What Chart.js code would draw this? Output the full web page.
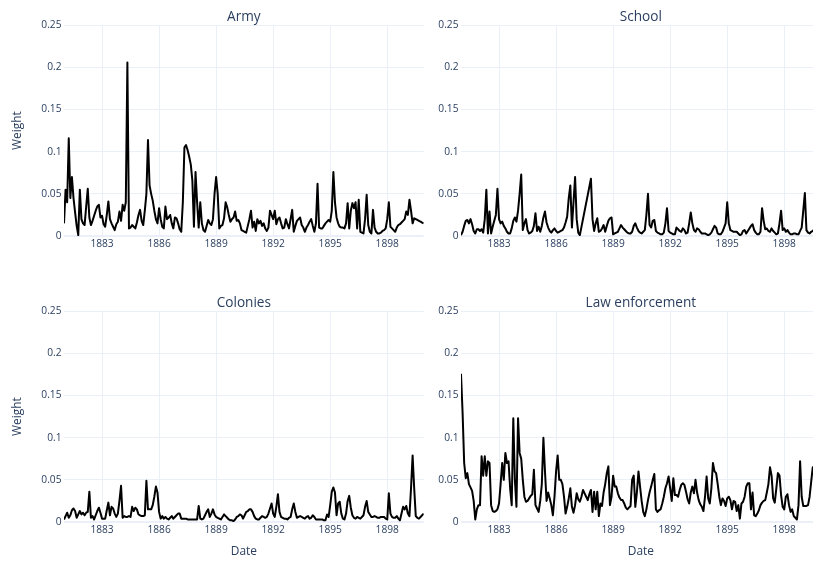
<!DOCTYPE html>
<html>
<head>
<meta charset="utf-8">
<script src="https://cdn.jsdelivr.net/npm/chart.js@4.4.0/dist/chart.umd.min.js"></script>
<style>
  html, body { margin: 0; padding: 0; background: #fff; overflow: hidden; }
  #page { position: relative; width: 813px; height: 563px; overflow: hidden; background: #fff; }
  canvas { position: absolute; }
</style>
</head>
<body>
<div id="page">
  <canvas id="armyChart" width="430" height="262" style="left:0;top:0"></canvas>
  <canvas id="schoolChart" width="430" height="262" style="left:397px;top:0"></canvas>
  <canvas id="coloniesChart" width="430" height="277" style="left:0;top:286px"></canvas>
  <canvas id="lawChart" width="430" height="277" style="left:397px;top:286px"></canvas>
</div>
<script>
// monthly series, Jan 1881 .. Dec 1899
const firstYear = 1881;
const monthCount = 228;
const months = Array.from({ length: monthCount }, (_, i) => firstYear + i / 12);

const yearTicks = [1883, 1886, 1889, 1892, 1895, 1898];
const weightTicks = [0, 0.05, 0.1, 0.15, 0.2, 0.25];

const armyWeights = [
  0.015, 0.055, 0.04, 0.116, 0.045, 0.07, 0.045, 0.028, 0.012, 0.001, 0.055, 0.02,
  0.015, 0.013, 0.035, 0.056, 0.022, 0.013, 0.018, 0.024, 0.03, 0.035, 0.037, 0.022,
  0.024, 0.014, 0.011, 0.025, 0.041, 0.02, 0.015, 0.011, 0.007, 0.014, 0.017, 0.029,
  0.018, 0.037, 0.03, 0.04, 0.206, 0.009, 0.01, 0.013, 0.011, 0.009, 0.016, 0.025,
  0.031, 0.018, 0.013, 0.03, 0.05, 0.114, 0.06, 0.05, 0.042, 0.03, 0.02, 0.015,
  0.033, 0.02, 0.011, 0.009, 0.035, 0.02, 0.022, 0.025, 0.015, 0.009, 0.022, 0.021,
  0.015, 0.008, 0.005, 0.04, 0.105, 0.108, 0.102, 0.094, 0.085, 0.066, 0.011, 0.076,
  0.04, 0.01, 0.04, 0.015, 0.007, 0.005, 0.012, 0.019, 0.015, 0.013, 0.02, 0.05,
  0.07, 0.05, 0.009, 0.012, 0.013, 0.021, 0.04, 0.034, 0.025, 0.017, 0.02, 0.022,
  0.029, 0.018, 0.019, 0.015, 0.007, 0.006, 0.005, 0.004, 0.012, 0.02, 0.03, 0.01,
  0.017, 0.006, 0.02, 0.015, 0.018, 0.012, 0.015, 0.009, 0.006, 0.01, 0.03, 0.025,
  0.02, 0.03, 0.014, 0.02, 0.022, 0.015, 0.009, 0.01, 0.02, 0.014, 0.009, 0.02,
  0.031, 0.005, 0.012, 0.018, 0.02, 0.022, 0.013, 0.01, 0.005, 0.01, 0.013, 0.017,
  0.02, 0.012, 0.005, 0.015, 0.062, 0.01, 0.009, 0.009, 0.012, 0.015, 0.017, 0.019,
  0.017, 0.03, 0.076, 0.04, 0.022, 0.015, 0.011, 0.01, 0.01, 0.009, 0.015, 0.039,
  0.009, 0.03, 0.039, 0.033, 0.04, 0.009, 0.043, 0.005, 0.004, 0.003, 0.02, 0.049,
  0.013, 0.005, 0.003, 0.031, 0.01, 0.005, 0.003, 0.003, 0.004, 0.006, 0.007, 0.009,
  0.02, 0.04, 0.011, 0.009, 0.007, 0.005, 0.01, 0.013, 0.014, 0.016, 0.018, 0.02,
  0.029, 0.025, 0.043, 0.03, 0.015, 0.021, 0.02, 0.019, 0.018, 0.017, 0.016, 0.015
];

// null = no value for that month (line is joined across)
const schoolWeights = [
  0.001, 0.005, 0.012, 0.018, 0.019, 0.015, 0.02, 0.014, 0.006, 0.003, 0.008, 0.008,
  0.006, 0.008, 0.004, 0.02, 0.055, 0.003, 0.029, 0.003, 0.011, 0.018, 0.025, 0.056,
  0.02, 0.015, 0.017, 0.012, 0.009, 0.005, 0.003, 0.003, 0.009, 0.018, 0.022, 0.017,
  0.03, 0.05, 0.073, 0.007, 0.015, 0.02, 0.007, 0.003, 0.004, 0.006, 0.012, 0.027,
  0.006, 0.011, 0.005, 0.012, 0.022, 0.029, 0.016, 0.01, 0.006, 0.004, 0.007, 0.009,
  0.006, 0.004, 0.005, 0.006, 0.007, 0.01, 0.016, 0.023, 0.045, 0.06, 0.01, 0.04,
  0.07, 0.02, 0.004, 0.001, null, null, null, null, null, null, 0.068, 0.02,
  0.006, 0.015, 0.021, 0.005, 0.006, 0.009, 0.013, 0.005, 0.012, 0.018, 0.021, 0.022,
  0.002, 0.003, 0.004, 0.005, 0.009, 0.013, 0.01, 0.008, 0.006, 0.004, 0.003, 0.003,
  0.005, 0.012, 0.015, 0.01, 0.006, 0.004, 0.003, 0.005, 0.007, 0.025, 0.05, 0.013,
  0.01, 0.018, 0.019, 0.006, 0.004, 0.003, 0.002, 0.002, 0.004, 0.015, 0.033, 0.006,
  0.004, 0.003, 0.002, 0.002, 0.01, 0.008, 0.006, 0.005, 0.009, 0.007, 0.003, 0.004,
  0.015, 0.028, 0.015, 0.007, 0.005, 0.009, 0.008, 0.005, 0.003, 0.003, 0.003, 0.002,
  0.001, 0.002, 0.004, 0.008, 0.012, 0.01, 0.003, 0.002, 0.002, 0.005, 0.01, 0.015,
  0.04, 0.015, 0.007, 0.006, 0.005, 0.005, 0.005, 0.003, 0.001, 0.002, 0.006, 0.007,
  0.003, 0.006, 0.009, 0.012, 0.014, 0.007, 0.004, 0.002, 0.002, 0.005, 0.033, 0.018,
  0.008, 0.009, 0.006, 0.005, 0.009, 0.006, 0.004, 0.002, 0.003, 0.015, 0.03, 0.007,
  0.009, 0.005, 0.007, 0.004, 0.002, 0.002, 0.003, 0.003, 0.002, 0.002, 0.006, 0.01,
  0.03, 0.051, 0.007, 0.004, 0.003, 0.005, 0.006, 0.008, null, null, null, null
];

const coloniesWeights = [
  0.003, 0.007, 0.011, 0.005, 0.008, 0.014, 0.016, 0.013, 0.005, 0.009, 0.013, 0.009,
  0.011, 0.008, 0.011, 0.012, 0.036, 0.005, 0.007, 0.003, 0.008, 0.013, 0.017, 0.011,
  0.004, 0.004, 0.004, 0.014, 0.023, 0.008, 0.018, 0.016, 0.01, 0.006, 0.01, 0.025,
  0.043, 0.005, 0.007, 0.006, 0.006, 0.007, 0.006, 0.018, 0.013, 0.017, 0.015, 0.009,
  0.008, 0.007, 0.007, 0.008, 0.049, 0.015, 0.015, 0.015, 0.02, 0.03, 0.042, 0.035,
  0.012, 0.004, 0.007, 0.004, 0.006, 0.004, 0.003, 0.005, 0.007, 0.004, 0.006, 0.008,
  0.01, 0.01, 0.004, 0.004, 0.004, 0.004, 0.003, 0.003, 0.003, 0.003, 0.003, 0.003,
  0.003, 0.019, 0.004, 0.003, 0.004, 0.008, 0.012, 0.015, 0.006, 0.01, 0.015, 0.009,
  0.006, 0.005, 0.004, 0.003, 0.006, 0.009, 0.007, 0.005, 0.003, 0.002, 0.002, 0.001,
  0.003, 0.006, 0.007, 0.009, 0.008, 0.004, 0.008, 0.012, 0.013, 0.015, 0.015, 0.012,
  0.007, 0.004, 0.003, 0.003, 0.005, 0.007, 0.006, 0.005, 0.006, 0.01, 0.016, 0.022,
  0.01, 0.006, 0.018, 0.033, 0.012, 0.006, 0.005, 0.004, 0.004, 0.003, 0.005, 0.006,
  0.015, 0.022, 0.012, 0.005, 0.006, 0.007, 0.006, 0.005, 0.004, 0.006, 0.007, 0.004,
  0.005, 0.008, 0.006, 0.003, 0.003, 0.003, 0.003, 0.003, 0.002, 0.002, 0.009, 0.006,
  0.02, 0.036, 0.041, 0.035, 0.008, 0.022, 0.024, 0.01, 0.004, 0.003, 0.01, 0.025,
  0.031, 0.017, 0.008, 0.005, 0.004, 0.006, 0.005, 0.004, 0.006, 0.008, 0.018, 0.025,
  0.012, 0.009, 0.006, 0.006, 0.007, 0.006, 0.005, 0.005, 0.006, 0.006, 0.006, 0.004,
  0.003, 0.034, 0.01, 0.006, 0.005, 0.005, 0.007, 0.004, 0.002, 0.01, 0.018, 0.015,
  0.019, 0.01, 0.007, 0.04, 0.079, 0.04, 0.007, 0.005, 0.004, 0.006, 0.008, 0.01
];

const lawWeights = [
  0.176, 0.13, 0.07, 0.052, 0.058, 0.045, 0.041, 0.037, 0.025, 0.003, 0.015, 0.02,
  0.02, 0.078, 0.055, 0.078, 0.055, 0.072, 0.07, 0.02, 0.013, 0.012, 0.013, 0.015,
  0.022, 0.045, 0.07, 0.05, 0.082, 0.07, 0.072, 0.04, 0.02, 0.123, 0.05, 0.018,
  0.123, 0.082, 0.075, 0.05, 0.03, 0.024, 0.025, 0.028, 0.031, 0.033, 0.062, 0.02,
  0.016, 0.012, 0.025, 0.045, 0.1, 0.06, 0.025, 0.035, 0.028, 0.02, 0.008, 0.03,
  0.06, 0.079, 0.05, 0.05, 0.045, 0.03, 0.01, 0.018, 0.028, 0.04, 0.018, 0.011,
  0.02, 0.034, 0.027, 0.024, 0.03, 0.038, 0.034, 0.03, 0.026, 0.033, 0.038, 0.012,
  0.036, 0.015, 0.036, 0.007, 0.022, 0.019, 0.035, 0.045, 0.058, 0.066, 0.02, 0.03,
  0.055, 0.042, 0.042, 0.034, 0.029, 0.026, 0.026, 0.022, 0.017, 0.015, 0.017, 0.019,
  0.05, 0.055, 0.018, 0.035, 0.06, 0.042, 0.025, 0.012, 0.007, 0.015, 0.026, 0.035,
  0.042, 0.05, 0.057, 0.015, 0.012, 0.014, 0.015, 0.022, 0.03, 0.04, 0.046, 0.054,
  0.04, 0.025, 0.052, 0.032, 0.032, 0.03, 0.038, 0.044, 0.046, 0.044, 0.036, 0.027,
  0.022, 0.035, 0.042, 0.034, 0.05, 0.035, 0.026, 0.021, 0.018, 0.013, 0.03, 0.054,
  0.028, 0.022, 0.04, 0.07, 0.06, 0.058, 0.045, 0.03, 0.02, 0.028, 0.025, 0.019,
  0.028, 0.03, 0.026, 0.015, 0.025, 0.024, 0.013, 0.02, 0.004, 0.022, 0.024, 0.03,
  0.042, 0.046, 0.046, 0.015, 0.035, 0.008, 0.007, 0.01, 0.014, 0.02, 0.023, 0.025,
  0.026, 0.035, 0.045, 0.065, 0.055, 0.028, 0.023, 0.04, 0.058, 0.055, 0.032, 0.018,
  0.015, 0.03, 0.033, 0.02, 0.012, 0.015, 0.007, 0.005, 0.003, 0.02, 0.072, 0.03,
  0.019, 0.019, 0.019, 0.02, 0.03, 0.048, 0.065, 0.062, null, null, null, null
];

const fontFamily = "'Open Sans', 'DejaVu Sans', sans-serif";
const textColor = '#2a3f5f';
const gridColor = '#ebf0f8';

function makePanel(canvasId, title, values, opts) {
  return new Chart(document.getElementById(canvasId), {
    type: 'line',
    data: {
      datasets: [{
        label: title,
        data: months.map((m, i) => ({ x: m, y: values[i] })),
        borderColor: '#000',
        borderWidth: 2,
        borderJoinStyle: 'round',
        pointRadius: 0,
        tension: 0,
        spanGaps: true
      }]
    },
    options: {
      responsive: false,
      animation: false,
      devicePixelRatio: 1,
      layout: { padding: { left: 0, right: 6.3, top: 0, bottom: 0 } },
      plugins: {
        legend: { display: false },
        tooltip: { enabled: false },
        title: {
          display: true,
          text: title,
          fullSize: false,
          color: textColor,
          font: { family: fontFamily, size: 13.6, weight: 'normal' },
          padding: { top: 9, bottom: 0 }
        }
      },
      scales: {
        x: {
          type: 'linear',
          min: months[0],
          max: months[months.length - 1],
          afterBuildTicks: (axis) => { axis.ticks = yearTicks.map((v) => ({ value: v })); },
          afterFit: (axis) => { axis.height = opts.xHeight; },
          ticks: {
            color: textColor,
            font: { family: fontFamily, size: 10.2 },
            padding: 1.8,
            maxRotation: 0,
            callback: (v) => String(v)
          },
          grid: { color: gridColor, lineWidth: 1, drawTicks: false },
          border: { display: false },
          title: {
            display: opts.showDate,
            text: 'Date',
            color: textColor,
            font: { family: fontFamily, size: 11.9 },
            padding: { top: 0, bottom: 4.2 }
          }
        },
        y: {
          min: 0,
          max: 0.25,
          afterBuildTicks: (axis) => { axis.ticks = weightTicks.map((v) => ({ value: v })); },
          afterFit: (axis) => { axis.width = 64; },
          ticks: {
            color: textColor,
            font: { family: fontFamily, size: 10.2 },
            padding: 2.5,
            callback: (v) => String(v)
          },
          grid: {
            color: gridColor,
            drawTicks: false,
            lineWidth: (ctx) => (ctx.tick && ctx.tick.value === 0 ? 2 : 1)
          },
          border: { display: false },
          title: {
            display: opts.showWeight,
            text: 'Weight',
            color: textColor,
            font: { family: fontFamily, size: 11.9 },
            padding: { top: 10.9, bottom: 0 }
          }
        }
      }
    }
  });
}

makePanel('armyChart', 'Army', armyWeights, { xHeight: 26, showDate: false, showWeight: true });
makePanel('schoolChart', 'School', schoolWeights, { xHeight: 26, showDate: false, showWeight: false });
makePanel('coloniesChart', 'Colonies', coloniesWeights, { xHeight: 41, showDate: true, showWeight: true });
makePanel('lawChart', 'Law enforcement', lawWeights, { xHeight: 41, showDate: true, showWeight: false });
</script>
</body>
</html>
